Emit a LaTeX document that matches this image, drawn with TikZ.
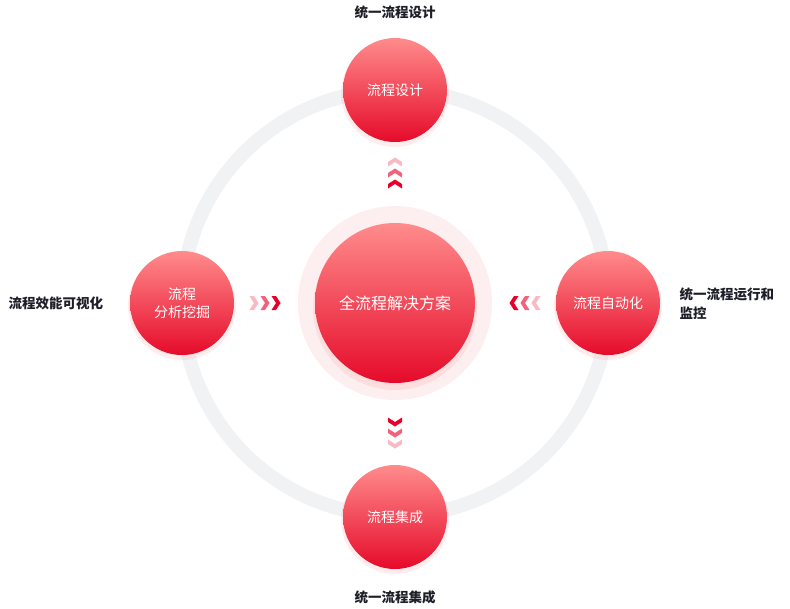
\documentclass[tikz,border=0pt]{standalone}
\usepackage{fontspec}
\newfontfamily\cjk{Noto Sans CJK SC}
\definecolor{rtop}{HTML}{FF8C8C}
\definecolor{rbot}{HTML}{E60A2A}
\definecolor{ring}{HTML}{F1F2F4}
\definecolor{halo}{HTML}{FDEEEF}
\definecolor{c1}{HTML}{E8002A}
\definecolor{c2}{HTML}{F2627A}
\definecolor{c3}{HTML}{F9B9C4}
\definecolor{txt}{HTML}{1E1E28}
\tikzset{
  ball/.style={circle,minimum size=#1,top color=rtop,bottom color=rbot,text=white,font=\cjk\fontsize{14}{18}\selectfont,align=center,inner sep=0pt},
  lab/.style={font=\cjk\bfseries\fontsize{13.5}{19}\selectfont,text=txt},
  pics/chev/.style={code={
    \fill (-4.5,-7) -- (0,-7) -- (4.5,0) -- (0,7) -- (-4.5,7) -- (0,0) -- cycle;}}
}
\begin{document}
\begin{tikzpicture}[x=1pt,y=-1pt]
\useasboundingbox (0,0) rectangle (790,608);
\draw[ring,line width=14pt] (395,303) circle (213);
\fill[halo] (395,303) circle (97);
\foreach \x/\y in {395/93,395/520,182/306,608/306}{\fill[red!60!white,opacity=0.12] (\x,\y) circle (54);}
\node[ball=104pt] (top) at (395,90) {流程设计};
\node[ball=104pt] (bot) at (395,517) {流程集成};
\node[ball=104pt] (left) at (182,303) {流程\\分析挖掘};
\node[ball=104pt] (right) at (608,303) {流程自动化};
\fill[red!40!white,opacity=0.2] (395,308) circle (82);
\node[ball=160pt,font=\cjk\fontsize{16}{20}\selectfont] (ctr) at (395,303) {全流程解决方案};
% chevrons
\foreach \i/\c in {0/c3,1/c2,2/c1}{
  \pic[fill=\c] at (254+11*\i,303) {chev};
  \pic[fill=\c,rotate=180] at (536-11*\i,303) {chev};
  \pic[fill=\c,rotate=90] at (395,162+11*\i) {chev};
  \pic[fill=\c,rotate=-90] at (395,444-11*\i) {chev};
}
\node[lab] (lt) at (395,12) {统一流程设计};
\node[lab] (lb) at (395,597) {统一流程集成};
\node[lab] (ll) at (56,303) {流程效能可视化};
\node[lab,anchor=west,align=left] (lr) at (676,304) {统一流程运行和\\监控};
\end{tikzpicture}
\end{document}
